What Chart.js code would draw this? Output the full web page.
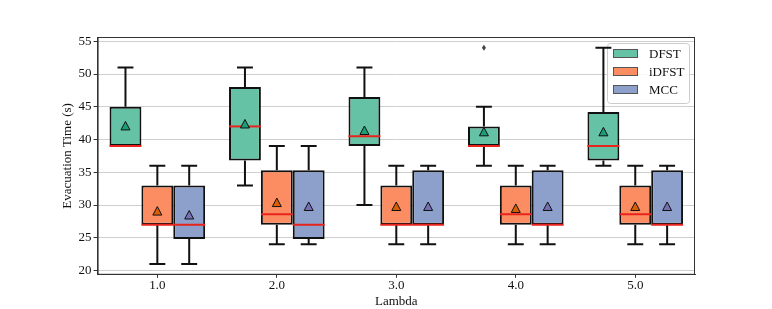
<!DOCTYPE html>
<html>
<head>
<meta charset="utf-8">
<script src="https://cdn.jsdelivr.net/npm/chart.js@4"></script>
<style>
html, body { margin: 0; padding: 0; background: #fff; }
#wrap { width: 772px; height: 309px; }
</style>
</head>
<body>
<div id="wrap"><canvas id="chart"></canvas></div>
<script>
var lambdas = ['1.0', '2.0', '3.0', '4.0', '5.0'];
var seriesNames = ['DFST', 'iDFST', 'MCC'];
var yTicks = [20, 25, 30, 35, 40, 45, 50, 55];

// DFST
var dfstLow  = [39, 33, 30, 36, 36];
var dfstQ1   = [39, 36.8, 39, 39, 36.8];
var dfstMed  = [39, 42, 40.5, 39, 39];
var dfstQ3   = [45, 48, 46.5, 42, 44.2];
var dfstHigh = [51, 51, 51, 45, 54];
var dfstMean = [42, 42.3, 41.3, 41.1, 41.1];
var dfstOut  = [[], [], [], [54], []];

// iDFST
var idfstLow  = [21, 24, 24, 24, 24];
var idfstQ1   = [27, 27, 27, 27, 27];
var idfstMed  = [27, 28.6, 27, 28.6, 28.6];
var idfstQ3   = [33, 35.3, 33, 33, 33];
var idfstHigh = [36, 39, 36, 36, 36];
var idfstMean = [29, 30.3, 29.7, 29.4, 29.7];
var idfstOut  = [[], [], [], [], []];

// MCC
var mccLow  = [21, 24, 24, 24, 24];
var mccQ1   = [24.8, 24.8, 27, 27, 27];
var mccMed  = [27, 27, 27, 27, 27];
var mccQ3   = [33, 35.3, 35.3, 35.3, 35.3];
var mccHigh = [36, 39, 36, 36, 36];
var mccMean = [28.4, 29.7, 29.7, 29.7, 29.7];
var mccOut  = [[], [], [], [], []];

var boxColors = ['#66c2a5', '#fc8d62', '#8da0cb'];
var meanColors = ['#1b9e77', '#d95f02', '#7570b3'];
var serif = "'Liberation Serif', 'Times New Roman', serif";

var stats = [
    {low: dfstLow, med: dfstMed, high: dfstHigh, mean: dfstMean, out: dfstOut},
    {low: idfstLow, med: idfstMed, high: idfstHigh, mean: idfstMean, out: idfstOut},
    {low: mccLow, med: mccMed, high: mccHigh, mean: mccMean, out: mccOut}
];

function boxes(q1, q3) {
    var r = [];
    for (var i = 0; i < q1.length; i++) r.push([q1[i], q3[i]]);
    return r;
}

var boxPlugin = {
    id: 'boxExtras',
    beforeDatasetsDraw: function (chart) {
        // legend sits under the boxes, like the original
        var ctx = chart.ctx;
        var a = chart.chartArea;
        var lx = a.right - 88, ly = a.top + 6, lw = 82, lh = 60;
        ctx.save();
        ctx.fillStyle = 'rgba(255,255,255,0.85)';
        ctx.strokeStyle = '#ccc';
        ctx.lineWidth = 1;
        ctx.beginPath();
        ctx.roundRect(lx + 0.5, ly + 0.5, lw, lh, 3);
        ctx.fill();
        ctx.stroke();
        ctx.font = '13px ' + serif;
        ctx.textBaseline = 'middle';
        for (var n = 0; n < seriesNames.length; n++) {
            var cy = ly + 11 + n * 18;
            ctx.fillStyle = boxColors[n];
            ctx.fillRect(lx + 6, cy - 5, 25, 9);
            ctx.strokeStyle = '#555';
            ctx.strokeRect(lx + 6.5, cy - 4.5, 24, 8);
            ctx.fillStyle = '#111';
            ctx.fillText(seriesNames[n], lx + 42, cy + 1);
        }
        ctx.restore();
    },
    afterDatasetsDraw: function (chart) {
        var ctx = chart.ctx;
        var ys = chart.scales.y;
        ctx.save();
        for (var d = 0; d < stats.length; d++) {
            var meta = chart.getDatasetMeta(d);
            var s = stats[d];
            var q = chart.data.datasets[d].data;
            for (var i = 0; i < meta.data.length; i++) {
                var bar = meta.data[i];
                var x = bar.x, w = bar.width;
                var yLow = ys.getPixelForValue(s.low[i]);
                var yHigh = ys.getPixelForValue(s.high[i]);
                var yQ1 = ys.getPixelForValue(q[i][0]);
                var yQ3 = ys.getPixelForValue(q[i][1]);
                ctx.strokeStyle = '#111';
                ctx.lineWidth = 2;
                ctx.beginPath();
                if (yLow > yQ1 + 0.5) {
                    ctx.moveTo(x, yQ1); ctx.lineTo(x, yLow);
                }
                ctx.moveTo(x - w / 4, yLow); ctx.lineTo(x + w / 4, yLow);
                ctx.moveTo(x, yQ3); ctx.lineTo(x, yHigh);
                ctx.moveTo(x - w / 4, yHigh); ctx.lineTo(x + w / 4, yHigh);
                ctx.stroke();
                // median
                var yMed = ys.getPixelForValue(s.med[i]);
                ctx.strokeStyle = '#e8231c';
                ctx.lineWidth = 2;
                ctx.beginPath();
                ctx.moveTo(x - w / 2, yMed); ctx.lineTo(x + w / 2, yMed);
                ctx.stroke();
                // mean
                var yMean = ys.getPixelForValue(s.mean[i]);
                ctx.fillStyle = meanColors[d];
                ctx.strokeStyle = '#111';
                ctx.lineWidth = 1;
                ctx.beginPath();
                ctx.moveTo(x, yMean - 5);
                ctx.lineTo(x + 4.5, yMean + 3.5);
                ctx.lineTo(x - 4.5, yMean + 3.5);
                ctx.closePath();
                ctx.fill();
                ctx.stroke();
                // outliers
                for (var k = 0; k < s.out[i].length; k++) {
                    var yo = ys.getPixelForValue(s.out[i][k]);
                    ctx.fillStyle = '#444';
                    ctx.beginPath();
                    ctx.moveTo(x, yo - 3); ctx.lineTo(x + 2, yo);
                    ctx.lineTo(x, yo + 3); ctx.lineTo(x - 2, yo);
                    ctx.closePath();
                    ctx.fill();
                }
            }
        }
        // frame
        var a = chart.chartArea;
        ctx.strokeStyle = '#333';
        ctx.lineWidth = 1;
        ctx.strokeRect(a.left + 0.5, a.top + 0.5, a.right - a.left - 1, a.bottom - a.top - 1);
        ctx.restore();
    }
};

var datasets = [];
var q1s = [dfstQ1, idfstQ1, mccQ1];
var q3s = [dfstQ3, idfstQ3, mccQ3];
for (var d = 0; d < seriesNames.length; d++) {
    datasets.push({
        label: seriesNames[d],
        data: boxes(q1s[d], q3s[d]),
        backgroundColor: boxColors[d],
        borderColor: '#111',
        borderWidth: 2,
        borderSkipped: false,
        categoryPercentage: 0.8,
        barPercentage: 1.0
    });
}

new Chart(document.getElementById('chart'), {
    type: 'bar',
    data: { labels: lambdas, datasets: datasets },
    plugins: [boxPlugin],
    options: {
        responsive: true,
        maintainAspectRatio: false,
        animation: false,
        layout: { padding: { left: 60, right: 77, top: 37, bottom: 0 } },
        plugins: { legend: { display: false }, tooltip: { enabled: false } },
        scales: {
            x: {
                grid: { display: true, offset: false, drawOnChartArea: false, tickLength: 3, tickColor: '#333' },
                border: { color: '#333' },
                ticks: { color: '#111', font: { family: serif, size: 13 }, padding: 0 },
                title: { display: true, text: 'Lambda', color: '#111', font: { family: serif, size: 13 }, padding: { top: 0, bottom: 0 } }
            },
            y: {
                min: 19.35,
                max: 55.65,
                afterBuildTicks: function (scale) {
                    scale.ticks = yTicks.map(function (v) { return { value: v }; });
                },
                grid: { color: '#cfcfcf', lineWidth: 1, tickLength: 4, tickColor: '#333' },
                border: { color: '#333' },
                ticks: { color: '#111', font: { family: serif, size: 13 }, padding: 2 },
                title: { display: true, text: 'Evacuation Time (s)', color: '#111', font: { family: serif, size: 13 }, padding: { top: 0, bottom: 1 } }
            }
        }
    }
});
</script>
</body>
</html>
